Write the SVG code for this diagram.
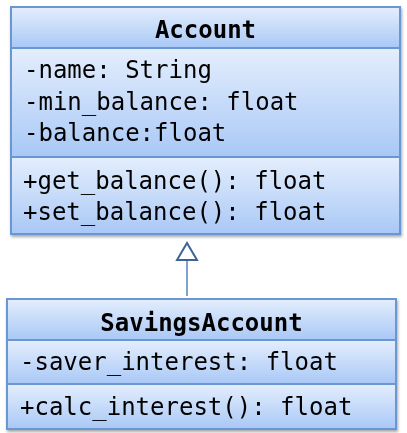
<svg xmlns="http://www.w3.org/2000/svg" width="407" height="433" viewBox="0 0 407 433">
  <defs>
    <linearGradient id="g" x1="0" y1="0" x2="0" y2="1">
      <stop offset="0" stop-color="#e4eefd"/>
      <stop offset="1" stop-color="#a9c8f6"/>
    </linearGradient>
    <filter id="sh" x="-5%" y="-5%" width="110%" height="115%">
      <feGaussianBlur in="SourceAlpha" stdDeviation="1.5"/>
      <feOffset dx="1" dy="2" result="b"/>
      <feComponentTransfer><feFuncA type="linear" slope="0.35"/></feComponentTransfer>
      <feMerge><feMergeNode/><feMergeNode in="SourceGraphic"/></feMerge>
    </filter>
  </defs>
  <style>
    .cell { fill: url(#g); stroke: #6b97d2; stroke-width: 2; }
    .t { font-family: "DejaVu Sans Mono", "Liberation Mono", monospace; font-size: 24px; fill: #000; }
    .h { font-weight: bold; text-anchor: middle; }
    .conn { stroke: #7ea2d2; stroke-width: 2; fill: none; }
    .head { fill: #fff; stroke: #3e6496; stroke-width: 2; stroke-linejoin: miter; }
  </style>

  <g id="Account" filter="url(#sh)">
    <rect class="cell" x="11" y="7" width="389" height="41"/>
    <rect class="cell" x="11" y="48" width="389" height="109"/>
    <rect class="cell" x="11" y="157" width="389" height="77"/>
    <text class="t h" x="205.5" y="38">Account</text>
    <text class="t" x="24" y="78">-name: String</text>
    <text class="t" x="24" y="110">-min_balance: float</text>
    <text class="t" x="24" y="141">-balance:float</text>
    <text class="t" x="23" y="189">+get_balance(): float</text>
    <text class="t" x="23" y="220">+set_balance(): float</text>
  </g>

  <g id="SavingsAccount" filter="url(#sh)">
    <rect class="cell" x="7" y="299" width="389" height="41"/>
    <rect class="cell" x="7" y="340" width="389" height="44"/>
    <rect class="cell" x="7" y="384" width="389" height="45"/>
    <text class="t h" x="201.5" y="331">SavingsAccount</text>
    <text class="t" x="20" y="370">-saver_interest: float</text>
    <text class="t" x="20" y="415">+calc_interest(): float</text>
  </g>

  <g id="connectors">
    <line class="conn" x1="187" y1="296" x2="187" y2="260"/>
    <polygon class="head" points="187,243 177,260 197,260"/>
  </g>
</svg>
